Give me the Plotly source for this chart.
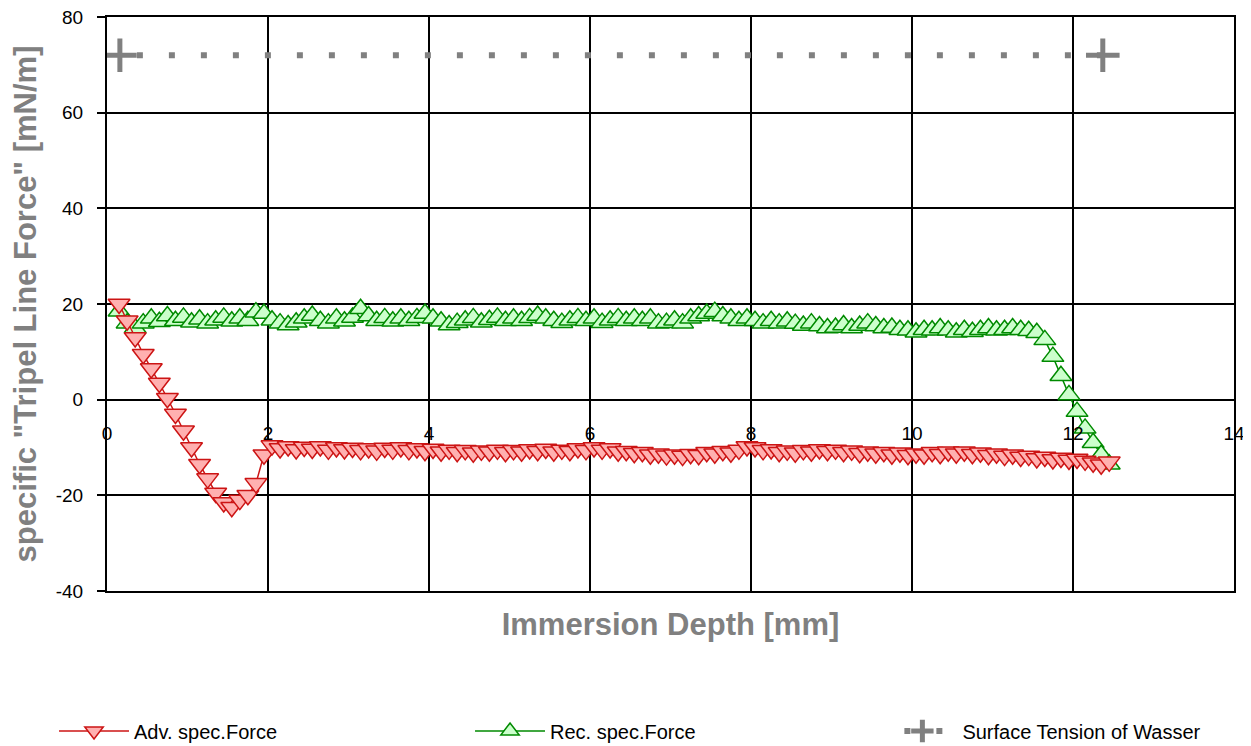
import plotly.graph_objects as go

# ---------------- data ----------------
depth_mm = [
    0.15, 0.25, 0.35, 0.45, 0.55, 0.65, 0.75, 0.85, 0.95, 1.05,
    1.15, 1.25, 1.35, 1.45, 1.55, 1.65, 1.75, 1.85, 1.95, 2.05,
    2.15, 2.25, 2.35, 2.45, 2.55, 2.65, 2.75, 2.85, 2.95, 3.05,
    3.15, 3.25, 3.35, 3.45, 3.55, 3.65, 3.75, 3.85, 3.95, 4.05,
    4.15, 4.25, 4.35, 4.45, 4.55, 4.65, 4.75, 4.85, 4.95, 5.05,
    5.15, 5.25, 5.35, 5.45, 5.55, 5.65, 5.75, 5.85, 5.95, 6.05,
    6.15, 6.25, 6.35, 6.45, 6.55, 6.65, 6.75, 6.85, 6.95, 7.05,
    7.15, 7.25, 7.35, 7.45, 7.55, 7.65, 7.75, 7.85, 7.95, 8.05,
    8.15, 8.25, 8.35, 8.45, 8.55, 8.65, 8.75, 8.85, 8.95, 9.05,
    9.15, 9.25, 9.35, 9.45, 9.55, 9.65, 9.75, 9.85, 9.95, 10.05,
    10.15, 10.25, 10.35, 10.45, 10.55, 10.65, 10.75, 10.85, 10.95, 11.05,
    11.15, 11.25, 11.35, 11.45, 11.55, 11.65, 11.75, 11.85, 11.95, 12.05,
    12.15, 12.25, 12.35, 12.45,
]

adv_force = [
    20.0, 16.5, 13.0, 9.5, 6.5, 3.5, 0.3, -3.0, -6.5, -10.0,
    -13.5, -16.5, -19.5, -21.5, -22.5, -21.0, -20.0, -17.5, -11.5, -9.6,
    -10.2, -9.8, -10.4, -9.9, -10.3, -9.8, -10.5, -10.0, -10.4, -10.1,
    -10.6, -10.2, -10.7, -10.1, -10.5, -10.0, -10.6, -10.2, -10.8, -10.3,
    -10.9, -10.5, -11.0, -10.6, -11.1, -10.7, -10.9, -10.5, -11.0, -10.6,
    -10.9, -10.4, -10.8, -10.3, -10.9, -10.5, -10.8, -10.2, -10.6, -10.0,
    -10.5, -10.2, -10.9, -10.8, -11.2, -11.0, -11.5, -11.3, -11.7, -11.5,
    -11.8, -11.4, -11.6, -11.0, -11.3, -10.8, -11.1, -10.5, -9.8, -10.0,
    -10.6, -10.4, -11.0, -10.7, -11.1, -10.6, -10.9, -10.4, -10.8, -10.5,
    -11.0, -10.7, -11.2, -10.9, -11.3, -11.0, -11.5, -11.1, -11.6, -11.3,
    -11.5, -11.0, -11.4, -10.9, -11.3, -10.9, -11.4, -11.1, -11.6, -11.3,
    -11.8, -11.5, -12.0, -11.8, -12.3, -12.0, -12.5, -12.2, -12.6, -12.4,
    -12.8, -13.2, -13.6, -13.0,
]

rec_force = [
    18.5, 16.0, 15.0, 16.0, 17.0, 16.3, 17.5, 16.5, 17.2, 16.2,
    16.8, 16.0, 16.6, 17.2, 16.4, 17.0, 16.5, 18.3, 18.0, 16.6,
    16.0, 15.6, 16.2, 17.0, 17.6, 16.5, 16.0, 17.0, 16.4, 17.2,
    19.0, 17.5, 16.5, 17.1, 16.4, 17.0, 16.5, 17.1, 18.0, 17.0,
    16.4, 15.6, 16.1, 16.6, 17.1, 16.2, 16.7, 17.2, 16.5, 17.0,
    16.5, 17.1, 17.6, 17.0, 16.5, 16.1, 16.6, 17.1, 16.5, 17.0,
    16.1, 16.6, 17.1, 16.5, 17.0, 16.5, 17.0, 16.0, 16.1, 16.6,
    16.0, 17.0, 17.5, 18.0, 18.4, 17.5, 17.0, 16.5, 17.0, 16.5,
    16.0, 16.5, 16.0, 16.4, 15.9, 15.5, 16.0, 15.4, 15.0, 15.1,
    15.6, 15.0, 15.5, 16.0, 15.4, 15.0, 15.1, 14.6, 14.5, 14.1,
    14.6, 14.5, 15.0, 14.5, 14.1, 14.6, 14.2, 14.6, 15.0, 14.5,
    14.6, 15.0, 14.6, 14.4, 14.0, 12.5, 9.0, 5.0, 1.0, -2.5,
    -6.0, -9.0, -11.5, -13.5,
]

surface_x = [0.16, 12.37]
surface_y = [72.0, 72.0]

x_ticks = [0, 2, 4, 6, 8, 10, 12, 14]
x_ticktext = ["0", "2", "4", "6", "8", "10", "12", "14"]
y_ticks = [-40, -20, 0, 20, 40, 60, 80]
y_ticktext = ["-40", "-20", "0", "20", "40", "60", "80"]

names = ["Adv. spec.Force", "Rec. spec.Force", "Surface Tension of Wasser"]

FONT = "Arial, 'Liberation Sans', sans-serif"
GREY = "#808080"

# ---------------- figure ----------------
fig = go.Figure()

fig.add_trace(go.Scatter(
    x=depth_mm, y=rec_force, name=names[1], mode="lines+markers",
    line=dict(color="#008A00", width=1.5),
    marker=dict(symbol="triangle-up", size=19, color="#CCFFCC",
                line=dict(color="#008A00", width=1.5)),
    legendrank=2, legend="legend",
))

fig.add_trace(go.Scatter(
    x=depth_mm, y=adv_force, name=names[0], mode="lines+markers",
    line=dict(color="#CC1414", width=1.5),
    marker=dict(symbol="triangle-down", size=19, color="#FFB0B0",
                line=dict(color="#CC1414", width=1.5)),
    legendrank=1, legend="legend",
))

fig.add_trace(go.Scatter(
    x=surface_x, y=surface_y, name=names[2], mode="lines+markers",
    xaxis="x2",
    line=dict(color=GREY, width=6, dash="0px,17px,6px,9px"),
    marker=dict(symbol="cross-thin", size=24, color=GREY,
                line=dict(color=GREY, width=5)),
    legendrank=3, legend="legend2",
))

# the page body has an 8px margin: the figure is sized to fit inside it
W, H = 1243, 738
L, R, T, B = 99, 17, 9, 155
zero_frac = (0 - (-40)) / 120.0

legend_common = dict(
    orientation="h", yanchor="middle", xanchor="left", y=-0.244,
    itemwidth=70, font=dict(family=FONT, size=20, color="black"),
    bgcolor="rgba(0,0,0,0)", traceorder="normal",
)

fig.update_layout(
    width=W, height=H,
    margin=dict(l=L, r=R, t=T, b=B, autoexpand=False),
    paper_bgcolor="white", plot_bgcolor="white",
    font=dict(family=FONT, size=18, color="black"),
    showlegend=True,
    legend=dict(x=-0.047, entrywidth=331, entrywidthmode="pixels", **legend_common),
    legend2=dict(x=0.688, **legend_common),
    xaxis=dict(
        range=[0, 14], tickvals=x_ticks, showticklabels=False,
        showgrid=True, gridcolor="black", gridwidth=2,
        showline=True, linecolor="black", linewidth=2, mirror=True,
        zeroline=False, ticks="",
        title=dict(text="Immersion Depth [mm]", standoff=21,
                   font=dict(family=FONT, size=31, color=GREY, weight="bold")),
    ),
    xaxis2=dict(
        range=[0, 14], matches="x", overlaying="x", anchor="free",
        position=zero_frac, side="bottom",
        tickvals=x_ticks, ticktext=x_ticktext,
        showgrid=False, showline=False, zeroline=False, ticks="",
        ticklabelstandoff=20, ticklabeloverflow="allow",
        tickfont=dict(family=FONT, size=19, color="black"),
    ),
    yaxis=dict(
        range=[-40, 80], tickvals=y_ticks, ticktext=y_ticktext,
        showgrid=True, gridcolor="black", gridwidth=2,
        showline=True, linecolor="black", linewidth=2, mirror=True,
        zeroline=False, ticks="outside", ticklen=8, tickwidth=2, tickcolor="black",
        ticklabelstandoff=10, ticklabeloverflow="allow",
        tickfont=dict(family=FONT, size=19, color="black"),
        title=dict(text='specific "Tripel Line Force" [mN/m]', standoff=10,
                   font=dict(family=FONT, size=31, color=GREY, weight="bold")),
    ),
)

fig.write_html("out.html")
